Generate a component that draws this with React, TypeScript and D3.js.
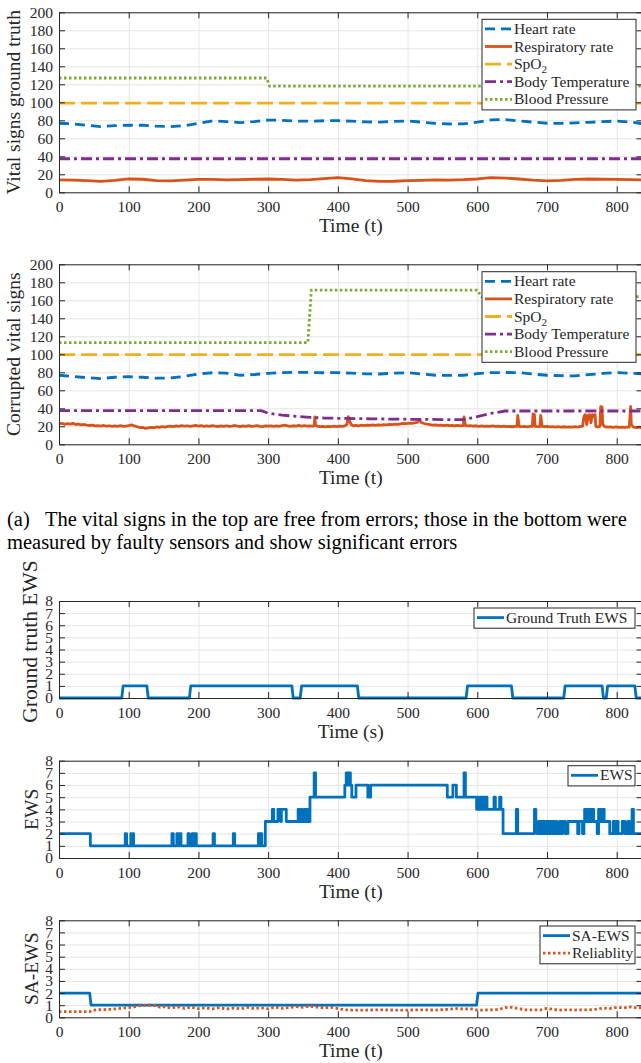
import React, { useEffect, useRef } from 'react';
import * as d3 from 'd3';

const W = 641;
const H = 1063;
const X_MAX = 837;
const FONT = '"Liberation Serif", "Times New Roman", serif';

const BLUE = '#0072BD';
const ORANGE = '#D95319';
const YELLOW = '#EDB120';
const PURPLE = '#7E2F8E';
const GREEN = '#77AC30';
const AXIS = '#262626';
const GRID = '#e4e4e4';

// tick labels
const timeTicks = [0, 100, 200, 300, 400, 500, 600, 700, 800];
const vitalTicks = [0, 20, 40, 60, 80, 100, 120, 140, 160, 180, 200];
const ewsTicks = [0, 1, 2, 3, 4, 5, 6, 7, 8];

// ---- vital signs, ground truth ----
const vitalTime = [0, 20, 40, 60, 80, 100, 120, 140, 160, 180, 200, 220, 240, 260, 280, 300, 320, 340, 360, 380, 400, 420, 440, 460, 480, 500, 520, 540, 560, 580, 600, 620, 640, 660, 680, 700, 720, 740, 760, 780, 800, 820, 840];
const hrTruth = [76.7, 76, 74.5, 73, 74, 74.5, 74.5, 73.5, 73, 74, 76.7, 79.5, 78.5, 77.4, 78.5, 80.3, 80, 79.2, 79, 79.5, 79.6, 79, 78.2, 78, 78.8, 79.2, 78, 76.5, 75.9, 76, 78, 80.5, 80.8, 79.2, 78, 76.7, 76.6, 77.2, 77.8, 78.5, 79.2, 78, 75.9];
const rrTruth = [13.7, 13.5, 13, 12.2, 13.3, 14.8, 14.5, 13, 12.6, 13.5, 14.4, 14.3, 13.8, 14, 14.5, 14.8, 14.3, 13.5, 14, 15.2, 16.2, 15, 13, 12.2, 12.3, 13, 13.3, 13.8, 13.6, 14, 14.8, 16.3, 15.8, 14.8, 13.5, 12.6, 13.2, 14.4, 14.8, 14.5, 14.4, 14, 13.7];
const flatTime = [0, 840];
const spo2Truth = [99, 99];
const tempTruth = [37.3, 37.3];
const bpTruthTime = [0, 298, 302, 840];
const bpTruth = [127, 127, 118, 118];

// ---- vital signs, corrupted ----
const hrCorrupted = [76.7, 75.5, 74, 73, 74.5, 75.2, 74.5, 73.5, 73.7, 75.5, 78.1, 79.5, 79, 76.7, 77.5, 78.9, 79.6, 80, 79.8, 79.5, 79.6, 79, 78.3, 78.1, 79, 79.6, 78, 76.7, 76.5, 76.7, 78.5, 79.6, 79.8, 79.6, 78, 76.7, 76.2, 76, 77.4, 78.8, 79.6, 79, 78.1];
const spo2Corrupted = [99.6, 99.6];
const tempCorTime = [0, 290, 300, 320, 340, 360, 380, 400, 450, 500, 550, 580, 600, 620, 640, 840];
const tempCorrupted = [37.4, 37.4, 34.5, 32.5, 31, 30, 29.2, 28.9, 28.3, 27.8, 27.5, 27.4, 30.7, 34.4, 37, 37];
const bpCorTime = [0, 357, 362, 600, 606, 840];
const bpCorrupted = [113, 113, 171.4, 171.4, 164, 164];
const rrCorrupted: [number, number][] = [
  [0, 22.6], [4, 23.4], [8, 22.1], [12, 23.0], [16, 22.4], [20, 23.2], [24, 22.0], [28, 22.5], [32, 21.6], [36, 22.0],
  [40, 21.2], [44, 20.9], [48, 21.3], [52, 20.4], [56, 20.8], [60, 20.2], [64, 20.9], [68, 20.1], [72, 20.6], [76, 19.8],
  [80, 20.5], [84, 20.0], [88, 20.7], [92, 19.9], [96, 20.3], [100, 20.8], [104, 21.6], [108, 20.4], [112, 19.5], [116, 18.6],
  [120, 18.9], [124, 17.6], [128, 18.3], [132, 18.9], [136, 18.4], [140, 19.3], [144, 18.9], [148, 19.6], [152, 19.1], [156, 19.8],
  [160, 20.3], [164, 19.6], [168, 20.4], [172, 19.9], [176, 20.8], [180, 20.1], [184, 20.6], [188, 19.8], [192, 20.5], [196, 20.9],
  [200, 20.2], [204, 20.7], [208, 19.9], [212, 20.4], [216, 20.0], [220, 20.8], [224, 20.1], [228, 19.7], [232, 20.5], [236, 20.0],
  [240, 20.6], [244, 19.8], [248, 20.3], [252, 20.9], [256, 20.1], [260, 19.7], [264, 20.4], [268, 20.0], [272, 20.7], [276, 19.9],
  [280, 20.3], [284, 20.8], [288, 20.0], [292, 19.6], [296, 20.4], [300, 20.1], [304, 20.6], [308, 19.9], [312, 20.5], [316, 20.0],
  [320, 20.7], [324, 21.2], [328, 20.5], [332, 20.0], [336, 20.6], [340, 20.2], [344, 20.9], [348, 20.3], [352, 20.7], [356, 20.1],
  [360, 20.5], [364, 20.0], [366, 21], [367, 30.5], [368, 21], [370, 20.2], [374, 19.6], [378, 20.0], [382, 19.4], [386, 19.9],
  [390, 19.5], [394, 20.1], [398, 19.7], [402, 20.2], [406, 19.8], [410, 20.4], [413, 22], [415, 30.8], [417, 26], [419, 22],
  [422, 20.6], [426, 21.0], [430, 20.5], [434, 21.2], [438, 20.8], [442, 21.4], [446, 20.9], [450, 21.5], [454, 21.1], [458, 21.7],
  [462, 21.3], [466, 21.9], [470, 21.6], [474, 22.2], [478, 21.8], [482, 22.5], [486, 22.1], [490, 22.8], [494, 23.3], [498, 22.9],
  [502, 23.6], [506, 23.2], [510, 23.9], [514, 24.3], [517, 27.2], [520, 24.0], [524, 23.1], [528, 22.4], [532, 21.8], [536, 21.2],
  [540, 21.6], [544, 21.0], [548, 21.4], [552, 20.8], [556, 21.2], [560, 20.7], [564, 21.1], [568, 20.6], [572, 21.0], [576, 20.5],
  [580, 20.9], [581, 30.5], [583, 21], [586, 20.4], [590, 20.8], [594, 20.2], [598, 20.6], [602, 20.0], [606, 20.4], [610, 19.8],
  [614, 20.3], [618, 19.9], [622, 20.4], [626, 19.8], [630, 20.2], [634, 19.7], [638, 20.1], [642, 19.6], [646, 20.0], [650, 19.5],
  [654, 19.9], [657, 20], [658, 32], [660, 20], [664, 19.6], [668, 20.0], [672, 19.4], [676, 19.8], [679, 20], [680, 33.7],
  [682, 33], [683, 20], [686, 19.6], [690, 19.8], [691, 32], [693, 20], [696, 19.5], [700, 19.8], [704, 19.3], [708, 19.7],
  [712, 19.2], [716, 19.6], [720, 19.1], [724, 19.5], [728, 19.0], [732, 19.4], [736, 19.1], [740, 19.6], [744, 19.2], [748, 19.8],
  [751, 20], [753, 31], [755, 33], [757, 22], [759, 32], [761, 33], [763, 24], [765, 33], [767, 31], [769, 33],
  [770, 20], [773, 19.4], [776, 20], [777, 41.8], [779, 41.5], [780, 22], [783, 19.5], [787, 19.0], [791, 19.4], [795, 18.9],
  [799, 19.3], [803, 18.8], [807, 19.2], [811, 18.7], [815, 19.1], [818, 19], [820, 42], [821, 22], [824, 19.0], [828, 18.6],
  [832, 19.0], [836, 18.5], [840, 19.0],
];

// ---- EWS ----
const ewsTruthTime = [0, 90, 92, 126, 128, 187, 189, 334, 336, 346, 348, 428, 430, 584, 586, 649, 651, 724, 726, 779, 781, 785, 787, 826, 828, 840];
const ewsTruth = [0, 0, 1, 1, 0, 0, 1, 1, 0, 0, 1, 1, 0, 0, 1, 1, 0, 0, 1, 1, 0, 0, 1, 1, 0, 0];

// change points of the corrupted EWS (held until the next one)
const ewsSteps: [number, number][] = [
  [0, 2], [45, 1], [95, 2], [97, 1], [103, 2], [104, 1], [106, 2], [107, 1], [162, 2], [164, 1],
  [169, 2], [171, 1], [173, 2], [175, 1], [185, 2], [187, 1], [191, 2], [193, 1], [195, 2], [197, 1],
  [221, 2], [223, 1], [250, 2], [252, 1], [286, 2], [288, 1], [289, 2], [291, 1], [296, 3], [306, 4],
  [308, 3], [314, 4], [318, 3], [319, 4], [326, 3], [343, 4], [345, 3], [348, 4], [349, 3], [352, 4],
  [354, 3], [356, 4], [357, 3], [360, 5], [366, 7], [368, 5], [410, 6], [412, 7], [414, 6], [415, 7],
  [418, 6], [420, 5], [426, 6], [443, 5], [447, 6], [557, 5], [565, 6], [570, 5], [581, 7], [583, 5],
  [599, 4], [601, 5], [602, 4], [604, 5], [605, 4], [607, 5], [608, 4], [610, 5], [611, 4], [613, 5],
  [614, 4], [624, 5], [626, 4], [632, 5], [634, 4], [637, 2], [656, 4], [658, 2], [682, 4], [684, 3],
  [686, 2], [688, 3], [690, 2], [691, 3], [693, 2], [695, 3], [696, 2], [698, 3], [700, 2], [702, 3],
  [703, 2], [705, 3], [707, 2], [708, 3], [710, 2], [712, 3], [714, 2], [718, 3], [720, 2], [722, 3],
  [726, 2], [730, 3], [744, 2], [746, 3], [751, 2], [753, 3], [754, 4], [757, 3], [759, 4], [762, 3],
  [764, 4], [767, 3], [772, 2], [774, 4], [777, 3], [780, 4], [782, 3], [790, 2], [795, 3], [797, 2],
  [800, 3], [802, 2], [808, 3], [812, 2], [816, 3], [818, 2], [822, 4], [824, 2], [840, 2],
];

const saEwsTime = [0, 44, 46, 599, 601, 840];
const saEws = [2, 2, 1, 1, 2, 2];
const relTime = [0, 10, 20, 30, 40, 44, 48, 55, 65, 75, 85, 95, 105, 112, 120, 130, 140, 145, 150, 160, 170, 180, 190, 200, 210, 220, 230, 240, 250, 260, 270, 280, 290, 300, 310, 320, 330, 340, 350, 360, 370, 380, 390, 400, 410, 420, 440, 460, 480, 500, 520, 540, 560, 570, 580, 590, 600, 610, 620, 630, 640, 650, 660, 670, 680, 690, 700, 710, 720, 730, 740, 750, 760, 770, 780, 790, 800, 810, 820, 830, 840];
const reliability = [0.46, 0.46, 0.46, 0.47, 0.46, 0.46, 0.58, 0.62, 0.64, 0.66, 0.72, 0.78, 0.82, 0.92, 0.98, 1.0, 0.97, 0.82, 0.88, 0.76, 0.86, 0.74, 0.84, 0.72, 0.78, 0.7, 0.8, 0.68, 0.76, 0.7, 0.82, 0.72, 0.78, 0.7, 0.84, 0.74, 0.8, 0.88, 0.82, 0.92, 0.84, 0.78, 0.82, 0.72, 0.62, 0.6, 0.6, 0.61, 0.6, 0.6, 0.61, 0.6, 0.66, 0.72, 0.68, 0.7, 0.6, 0.6, 0.62, 0.64, 0.8, 0.82, 0.7, 0.62, 0.62, 0.6, 0.74, 0.64, 0.6, 0.62, 0.6, 0.62, 0.61, 0.66, 0.76, 0.72, 0.82, 0.78, 0.86, 0.76, 0.84];

const zip = (t: number[], v: number[]): [number, number][] => t.map((d, i) => [d, v[i]]);

interface Series {
  name: string;
  pts: [number, number][];
  color: string;
  dash?: string;
  step?: boolean;
  sub?: string;
}

interface Panel {
  top: number;
  bottom: number;
  yMax: number;
  yTicks: number[];
  yLabel: string;
  yLabelX: number;
  yLabelY?: number;
  yLabelSize?: number;
  xLabel: string;
  series: Series[];
  legend: { x: number; y: number; w: number };
}

const HR_DASH = '10,6';
const SPO2_DASH = '16,6';
const TEMP_DASH = '11,4,3,4';
const DOT = '2.5,2.5';

const panels: Panel[] = [
  {
    top: 12.3, bottom: 192.3, yMax: 200, yTicks: vitalTicks,
    yLabel: 'Vital signs ground truth', yLabelX: 20, xLabel: 'Time (t)',
    series: [
      { name: 'Heart rate', pts: zip(vitalTime, hrTruth), color: BLUE, dash: HR_DASH },
      { name: 'Respiratory rate', pts: zip(vitalTime, rrTruth), color: ORANGE },
      { name: 'SpO', sub: '2', pts: zip(flatTime, spo2Truth), color: YELLOW, dash: SPO2_DASH },
      { name: 'Body Temperature', pts: zip(flatTime, tempTruth), color: PURPLE, dash: TEMP_DASH },
      { name: 'Blood Pressure', pts: zip(bpTruthTime, bpTruth), color: GREEN, dash: DOT },
    ],
    legend: { x: 482, y: 19.3, w: 154 },
  },
  {
    top: 264.3, bottom: 444.3, yMax: 200, yTicks: vitalTicks,
    yLabel: 'Corrupted vital signs', yLabelX: 20, xLabel: 'Time (t)',
    series: [
      { name: 'Heart rate', pts: zip(vitalTime, hrCorrupted), color: BLUE, dash: HR_DASH },
      { name: 'Respiratory rate', pts: rrCorrupted, color: ORANGE },
      { name: 'SpO', sub: '2', pts: zip(flatTime, spo2Corrupted), color: YELLOW, dash: SPO2_DASH },
      { name: 'Body Temperature', pts: zip(tempCorTime, tempCorrupted), color: PURPLE, dash: TEMP_DASH },
      { name: 'Blood Pressure', pts: zip(bpCorTime, bpCorrupted), color: GREEN, dash: DOT },
    ],
    legend: { x: 482, y: 271.7, w: 154 },
  },
  {
    top: 601, bottom: 698, yMax: 8, yTicks: ewsTicks,
    yLabel: 'Ground truth EWS', yLabelX: 37, yLabelY: 641.5, yLabelSize: 21.5, xLabel: 'Time (s)',
    series: [{ name: 'Ground Truth EWS', pts: zip(ewsTruthTime, ewsTruth), color: BLUE }],
    legend: { x: 474, y: 608, w: 161 },
  },
  {
    top: 760.7, bottom: 858, yMax: 8, yTicks: ewsTicks,
    yLabel: 'EWS', yLabelX: 37.5, xLabel: 'Time (t)',
    series: [{ name: 'EWS', pts: ewsSteps, color: BLUE, step: true }],
    legend: { x: 568, y: 765.7, w: 67 },
  },
  {
    top: 920.3, bottom: 1017.3, yMax: 8, yTicks: ewsTicks,
    yLabel: 'SA-EWS', yLabelX: 37.5, xLabel: 'Time (t)',
    series: [
      { name: 'SA-EWS', pts: zip(saEwsTime, saEws), color: BLUE },
      { name: 'Reliablity', pts: zip(relTime, reliability), color: ORANGE, dash: DOT },
    ],
    legend: { x: 540, y: 926, w: 95 },
  },
];

const ROW = 17.6;

const App: React.FC = () => {
  const svgRef = useRef<SVGSVGElement>(null);

  useEffect(() => {
    if (!svgRef.current) return;
    const svg = d3.select(svgRef.current);
    svg.selectAll('*').remove();

    const x = d3.scaleLinear().domain([0, X_MAX]).range([59, 642.5]);

    panels.forEach((p) => {
      const y = d3.scaleLinear().domain([0, p.yMax]).range([p.bottom, p.top]);
      const g = svg.append('g');
      const ph = p.bottom - p.top;

      // grid
      g.append('g')
        .attr('transform', `translate(0,${p.bottom})`)
        .call(d3.axisBottom(x).tickValues(timeTicks).tickSize(-ph).tickFormat(() => ''))
        .call((a) => a.select('.domain').remove())
        .selectAll('line')
        .attr('stroke', GRID);
      g.append('g')
        .attr('transform', `translate(${x(0)},0)`)
        .call(d3.axisLeft(y).tickValues(p.yTicks).tickSize(-(x(X_MAX) - x(0))).tickFormat(() => ''))
        .call((a) => a.select('.domain').remove())
        .selectAll('line')
        .attr('stroke', GRID);

      // data
      p.series.forEach((s) => {
        const line = d3
          .line<[number, number]>()
          .x((d) => x(d[0]))
          .y((d) => y(d[1]))
          .curve(s.step ? d3.curveStepAfter : d3.curveLinear);
        g.append('path')
          .attr('d', line(s.pts))
          .attr('fill', 'none')
          .attr('stroke', s.color)
          .attr('stroke-width', 2.8)
          .attr('stroke-linejoin', 'round')
          .attr('stroke-dasharray', s.dash ?? null);
      });

      // box with inward ticks
      const styleAxis = (a: d3.Selection<SVGGElement, unknown, null, undefined>) => {
        a.attr('color', AXIS).attr('font-family', FONT).attr('font-size', 15.5);
        a.select('.domain').attr('stroke-width', 1);
      };
      g.append('g')
        .attr('transform', `translate(0,${p.bottom})`)
        .call(d3.axisBottom(x).tickValues(timeTicks).tickSizeInner(-6).tickSizeOuter(0).tickPadding(9))
        .call(styleAxis);
      g.append('g')
        .attr('transform', `translate(0,${p.top})`)
        .call(d3.axisTop(x).tickValues(timeTicks).tickSizeInner(-6).tickSizeOuter(0).tickFormat(() => ''))
        .call(styleAxis);
      g.append('g')
        .attr('transform', `translate(${x(0)},0)`)
        .call(d3.axisLeft(y).tickValues(p.yTicks).tickSizeInner(-6).tickSizeOuter(0).tickPadding(6))
        .call(styleAxis);
      g.append('g')
        .attr('transform', `translate(${x(X_MAX)},0)`)
        .call(d3.axisRight(y).tickValues(p.yTicks).tickSizeInner(-6).tickSizeOuter(0).tickFormat(() => ''))
        .call(styleAxis);

      // labels
      g.append('text')
        .attr('x', (x(0) + x(X_MAX)) / 2)
        .attr('y', p.bottom + 40)
        .attr('text-anchor', 'middle')
        .attr('font-family', FONT)
        .attr('font-size', 19.5)
        .attr('fill', AXIS)
        .text(p.xLabel);
      g.append('text')
        .attr('transform', `translate(${p.yLabelX},${p.yLabelY ?? (p.top + p.bottom) / 2}) rotate(-90)`)
        .attr('text-anchor', 'middle')
        .attr('font-family', FONT)
        .attr('font-size', p.yLabelSize ?? 19.5)
        .attr('fill', AXIS)
        .text(p.yLabel);

      // legend
      const L = p.legend;
      const lg = g.append('g');
      lg.append('rect')
        .attr('x', L.x)
        .attr('y', L.y)
        .attr('width', L.w)
        .attr('height', p.series.length * ROW + 2.6)
        .attr('fill', 'white')
        .attr('stroke', AXIS)
        .attr('stroke-width', 1);
      p.series.forEach((s, i) => {
        const cy = L.y + 9.6 + i * ROW;
        lg.append('line')
          .attr('x1', L.x + 3)
          .attr('x2', L.x + 30)
          .attr('y1', cy)
          .attr('y2', cy)
          .attr('stroke', s.color)
          .attr('stroke-width', 2.8)
          .attr('stroke-dasharray', s.dash ?? null);
        const t = lg
          .append('text')
          .attr('x', L.x + 32)
          .attr('y', cy + 5)
          .attr('font-family', FONT)
          .attr('font-size', 15.5)
          .attr('fill', AXIS)
          .text(s.name);
        if (s.sub) {
          t.append('tspan').attr('dy', 4).attr('font-size', 11).text(s.sub);
        }
      });
    });

    // caption of subfigure (a)
    const cap = svg.append('g').attr('font-family', FONT).attr('font-size', 20.5).attr('fill', 'black');
    cap.append('text').attr('x', 7).attr('y', 525.5).text('(a)');
    cap.append('text').attr('x', 45).attr('y', 525.5)
      .text('The vital signs in the top are free from errors; those in the bottom were');
    cap.append('text').attr('x', 7).attr('y', 548.5)
      .text('measured by faulty sensors and show significant errors');
  }, []);

  return (
    <svg
      ref={svgRef}
      width={W}
      height={H}
      style={{ position: 'absolute', left: 0, top: 0, background: 'white' }}
    />
  );
};

export default App;
